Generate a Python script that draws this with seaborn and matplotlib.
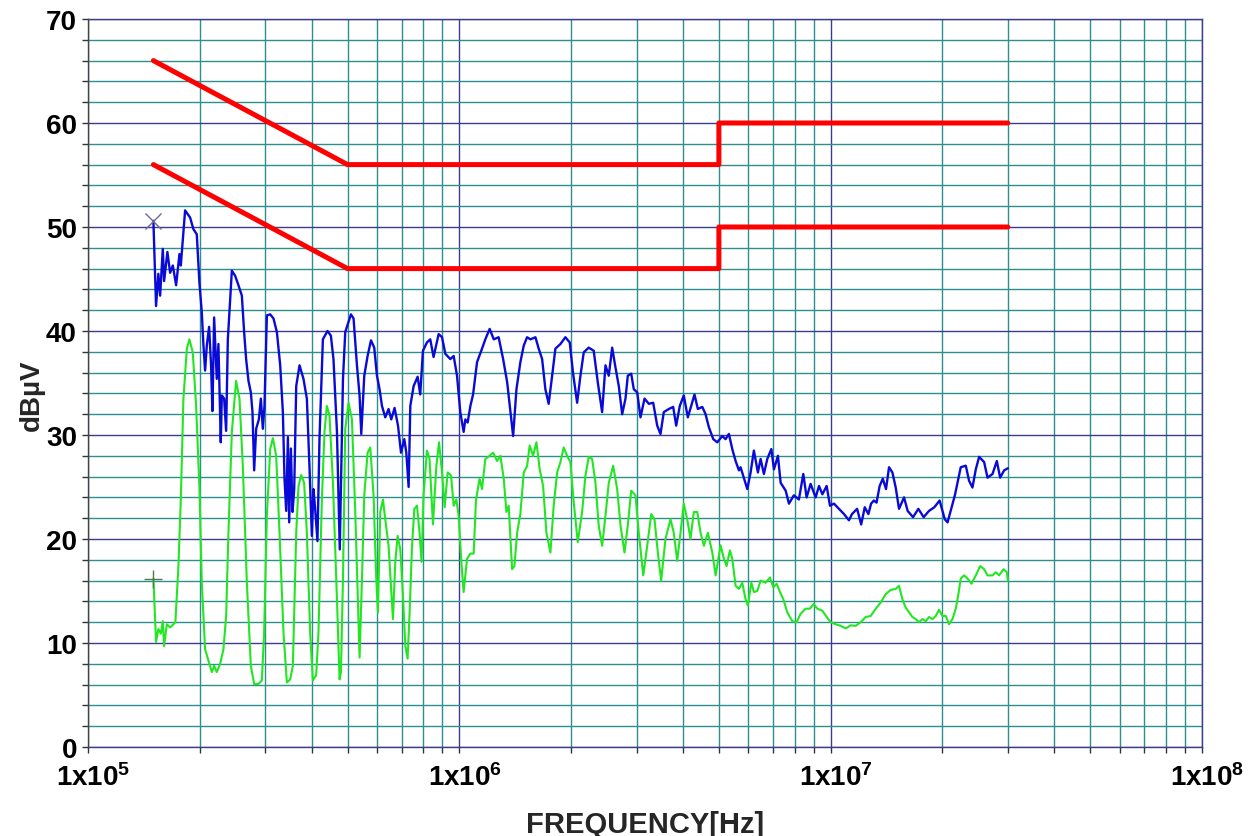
import matplotlib
matplotlib.use("Agg")
import matplotlib.pyplot as plt
import seaborn as sns
import pandas as pd
import numpy as np
from matplotlib.ticker import FixedLocator, NullFormatter, FixedFormatter
from matplotlib.transforms import ScaledTranslation

# ---------------- data ----------------
limit_f_khz = [150, 500, 5000, 5000, 30000]
limit_qp_db = [66, 56, 56, 60, 60]
limit_av_db = [56, 46, 46, 50, 50]

peak_f_khz = [150, 152.5, 154.7, 156.4, 159.0, 160.3, 163.6, 166.4, 169.2, 172.7, 176.3, 177.8, 182.6, 188.4, 192.2, 196.3, 199.5, 202.5, 204.5, 206.7, 208.9, 211.9, 214.5, 216.3, 218.6, 222.2, 224.5, 227.8, 229.3, 232.6, 235.5, 238.0, 244.0, 249.1, 254.2, 259.6, 263.3, 266.6, 270.5, 274.5, 277.3, 280.2, 283.7, 288.5, 292.1, 295.7, 298.7, 303.2, 309.5, 315.9, 322.6, 329.3, 334.8, 338.2, 341.8, 345.4, 348.2, 351.9, 355.4, 359.2, 363.7, 371.2, 380.4, 388.5, 394.8, 400.7, 404.8, 409.0, 414.9, 420.1, 429.1, 441.5, 450.9, 458.2, 468.2, 476.4, 486.0, 492.9, 510.6, 519.0, 530.0, 538.7, 544.4, 554.6, 566.2, 578.2, 590.0, 600.0, 609.8, 618.9, 631.7, 644.8, 655.7, 669.3, 683.7, 696.5, 710.9, 719.8, 730.2, 737.9, 753.2, 772.1, 784.7, 798.0, 818.1, 835.0, 852.3, 879.6, 898.3, 916.9, 945.8, 965.4, 985.8, 1006, 1027, 1038, 1053, 1071, 1089, 1116, 1151, 1175, 1207, 1238, 1276, 1312, 1345, 1373, 1396, 1425, 1460, 1491, 1522, 1554, 1603, 1636, 1671, 1705, 1740, 1778, 1814, 1872, 1930, 1983, 2025, 2076, 2119, 2163, 2231, 2301, 2359, 2424, 2475, 2526, 2580, 2633, 2688, 2745, 2802, 2842, 2903, 2950, 3013, 3075, 3153, 3238, 3327, 3411, 3481, 3553, 3665, 3766, 3837, 3924, 4022, 4124, 4212, 4298, 4388, 4511, 4604, 4699, 4829, 4950, 5106, 5212, 5320, 5433, 5546, 5662, 5720, 5963, 6087, 6212, 6368, 6476, 6610, 6751, 6922, 7035, 7211, 7334, 7565, 7721, 7960, 8211, 8439, 8614, 8829, 9112, 9301, 9500, 9755, 9957, 10207, 10529, 10860, 11202, 11416, 11780, 12084, 12353, 12636, 12848, 13072, 13290, 13551, 13815, 14095, 14362, 14664, 14968, 15278, 15760, 16120, 16667, 17225, 17800, 18397, 19012, 19650, 20000, 20290, 20645, 21120, 21600, 22404, 23114, 23590, 24090, 24594, 25107, 25896, 26448, 27282, 28020, 28599, 29319, 30000]
peak_db = [50.6, 42.4, 45.5, 43.4, 47.9, 44.8, 47.6, 45.6, 46.3, 44.4, 47.4, 46.3, 51.6, 50.9, 49.8, 49.3, 44.7, 41.8, 38.75, 36.2, 38.6, 40.4, 36.7, 32.3, 41.3, 35.4, 38.75, 29.3, 33.8, 33.5, 30.4, 39.2, 45.8, 45.3, 44.4, 43.4, 39.9, 37.3, 35.2, 34.1, 32.2, 26.6, 30.6, 31.5, 33.5, 30.6, 32.8, 41.5, 41.6, 41.2, 39.9, 36.7, 32.2, 25.8, 22.7, 29.8, 21.6, 28.7, 22.6, 24.8, 34.7, 36.7, 35.4, 33.5, 27.0, 20.3, 24.8, 22.9, 19.8, 29.6, 39.2, 40.0, 39.55, 37.3, 30.3, 19.0, 35.4, 39.9, 41.6, 41.2, 36.7, 33.8, 30.1, 35.7, 37.6, 39.1, 38.4, 35.7, 34.4, 32.8, 31.7, 32.5, 31.5, 32.6, 30.9, 28.3, 29.6, 28.3, 25.0, 32.8, 34.7, 35.6, 33.9, 38.1, 38.9, 39.2, 37.5, 39.7, 39.4, 37.8, 37.3, 37.6, 35.7, 32.2, 30.3, 31.5, 31.2, 32.8, 33.9, 37.0, 38.3, 39.2, 40.2, 39.2, 39.4, 37.3, 35.1, 32.2, 29.9, 34.4, 37.0, 38.6, 39.4, 39.2, 39.4, 38.3, 37.3, 34.4, 33.0, 35.7, 38.3, 38.75, 39.4, 38.9, 35.9, 33.1, 35.7, 37.95, 38.4, 38.1, 35.1, 32.2, 36.7, 35.7, 38.4, 36.5, 34.7, 32.0, 33.5, 35.7, 35.9, 34.4, 34.1, 31.7, 33.5, 33.0, 33.1, 30.9, 30.1, 32.2, 32.5, 32.7, 30.9, 32.8, 33.8, 31.7, 32.8, 33.9, 32.5, 32.7, 32.0, 30.75, 29.6, 29.3, 29.9, 29.6, 30.1, 28.65, 27.5, 26.6, 26.9, 24.8, 26.4, 28.5, 26.4, 27.7, 26.25, 27.7, 28.65, 26.7, 28.0, 25.4, 24.65, 23.4, 24.2, 23.8, 26.25, 24.0, 25.3, 24.0, 25.1, 24.3, 25.1, 23.2, 23.4, 22.9, 22.4, 21.8, 22.4, 22.9, 21.4, 23.05, 22.4, 23.4, 23.7, 23.5, 25.1, 25.8, 24.8, 26.9, 26.4, 24.95, 22.9, 24.0, 22.7, 22.1, 22.9, 22.1, 22.7, 23.05, 23.7, 22.7, 21.9, 21.6, 22.9, 24.2, 26.9, 27.05, 25.6, 24.95, 26.7, 27.9, 27.4, 25.9, 26.25, 27.5, 25.9, 26.6, 26.8]

avg_f_khz = [150, 152.5, 154.7, 157.1, 159.0, 160.3, 163.0, 166.4, 169.8, 171.9, 175.2, 177.8, 180.7, 184.6, 187.5, 191.5, 195.5, 199.5, 202.5, 206.7, 211.0, 215.5, 218.6, 222.2, 226.9, 231.6, 235.5, 238.9, 244.0, 250.5, 255.8, 261.2, 267.8, 274.5, 280.2, 287.8, 293.9, 298.1, 303.2, 309.5, 314.7, 321.2, 327.9, 336.1, 343.2, 350.3, 356.2, 363.7, 368.9, 375.0, 382.0, 388.5, 396.5, 403.2, 411.6, 417.5, 426.4, 433.4, 439.8, 447.0, 456.7, 468.2, 475.8, 479.9, 486.0, 492.9, 503.1, 513.8, 524.5, 538.7, 546.8, 554.6, 566.2, 575.6, 587.5, 597.4, 603.7, 612.4, 622.8, 631.7, 644.8, 654.4, 662.6, 672.3, 682.0, 693.5, 705.2, 715.4, 725.6, 734.7, 745.8, 756.5, 769.2, 781.4, 791.1, 801.0, 818.1, 831.4, 849.1, 867.1, 881.7, 898.3, 913.0, 930.1, 950.0, 965.4, 981.6, 995.7, 1012.5, 1027, 1049, 1071, 1093, 1109, 1134, 1151, 1175, 1207, 1233, 1264, 1290, 1317, 1339, 1358, 1387, 1407, 1431, 1460, 1491, 1522, 1547, 1580, 1613, 1646, 1681, 1716, 1759, 1795, 1834, 1872, 1910, 1951, 1991, 2033, 2084, 2141, 2186, 2231, 2278, 2326, 2373, 2424, 2475, 2526, 2596, 2661, 2717, 2785, 2842, 2903, 2981, 3043, 3128, 3206, 3287, 3354, 3424, 3496, 3590, 3704, 3780, 3861, 3941, 4022, 4108, 4193, 4280, 4372, 4463, 4556, 4670, 4799, 4899, 5053, 5158, 5245, 5354, 5433, 5546, 5662, 5780, 5900, 5985, 6113, 6212, 6344, 6476, 6680, 6862, 7009, 7154, 7302, 7458, 7641, 7881, 8095, 8298, 8560, 8791, 9000, 9209, 9500, 9755, 10000, 10315, 10640, 10975, 11323, 11676, 12045, 12424, 12818, 13222, 13640, 14068, 14512, 14968, 15278, 15604, 15926, 16256, 16602, 16946, 17296, 17664, 18032, 18404, 18796, 19186, 19582, 20000, 20414, 20836, 21280, 21720, 22032, 22404, 22872, 23352, 23944, 24594, 25263, 25896, 26448, 27282, 27846, 28422, 29211, 29814, 30000]
avg_db = [16.2, 10.1, 11.35, 10.9, 12.1, 9.7, 11.8, 11.5, 11.8, 12.0, 17.4, 23.8, 33.5, 38.3, 39.2, 37.95, 32.8, 25.1, 15.8, 9.4, 8.3, 7.2, 7.8, 7.2, 8.0, 9.4, 12.6, 20.6, 30.3, 35.2, 33.5, 27.0, 15.8, 7.8, 6.06, 6.06, 6.4, 11.0, 22.25, 28.65, 29.7, 28.0, 20.6, 11.0, 6.2, 6.5, 7.8, 20.6, 25.1, 26.15, 25.4, 20.6, 11.0, 6.4, 6.9, 11.0, 23.8, 30.3, 32.8, 31.9, 25.4, 14.2, 6.5, 7.2, 16.2, 30.6, 33.1, 31.5, 22.6, 8.6, 16.2, 24.2, 28.3, 28.8, 24.2, 16.2, 12.95, 22.6, 23.8, 21.9, 19.35, 15.5, 12.3, 17.8, 20.3, 19.0, 14.5, 9.7, 8.5, 12.95, 19.35, 22.9, 23.2, 20.6, 17.8, 24.2, 28.5, 27.7, 21.4, 27.0, 29.3, 26.4, 23.05, 26.4, 26.1, 23.2, 23.8, 22.25, 17.8, 14.9, 18.1, 18.6, 18.6, 23.8, 25.8, 24.8, 27.7, 28.0, 28.3, 27.5, 28.0, 25.8, 22.6, 23.2, 17.1, 17.4, 20.6, 22.4, 26.4, 27.0, 29.0, 28.0, 29.3, 26.7, 25.1, 20.6, 18.7, 23.2, 26.4, 27.4, 28.8, 28.0, 27.4, 23.5, 19.7, 22.6, 26.1, 27.9, 27.7, 25.4, 21.3, 19.35, 22.25, 25.4, 27.05, 24.8, 21.3, 18.7, 21.3, 24.65, 24.2, 20.6, 16.5, 19.35, 22.4, 21.9, 18.7, 16.0, 20.0, 21.9, 20.6, 17.9, 20.6, 23.4, 21.9, 20.0, 22.6, 22.6, 20.6, 19.35, 20.6, 18.7, 16.5, 19.4, 18.1, 17.4, 18.9, 18.1, 15.5, 15.2, 15.8, 14.2, 13.6, 15.8, 14.9, 15.0, 16.0, 15.8, 16.3, 15.35, 15.7, 14.9, 14.2, 12.95, 12.1, 12.0, 12.8, 13.3, 13.3, 13.75, 13.3, 13.1, 12.5, 12.0, 11.8, 11.65, 11.4, 11.7, 11.65, 12.0, 12.5, 12.6, 13.3, 13.9, 14.7, 15.1, 15.2, 15.5, 14.2, 13.4, 12.95, 12.5, 12.3, 12.0, 12.3, 12.1, 12.5, 12.3, 12.6, 13.2, 12.6, 12.6, 11.8, 12.3, 13.3, 14.5, 16.2, 16.5, 16.2, 15.7, 16.5, 17.4, 17.1, 16.5, 16.5, 16.8, 16.5, 17.1, 16.8, 16.0]

y_ticks = [0, 10, 20, 30, 40, 50, 60, 70]
x_ticks = [1e5, 1e6, 1e7, 1e8]
x_tick_labels = [r"$\mathbf{1x10^{5}}$", r"$\mathbf{1x10^{6}}$",
                 r"$\mathbf{1x10^{7}}$", r"$\mathbf{1x10^{8}}$"]

# ---------------- style ----------------
sns.set_style("white")
plt.rcParams["font.family"] = ["Liberation Sans", "DejaVu Sans"]
plt.rcParams["mathtext.fontset"] = "custom"
plt.rcParams["mathtext.rm"] = "Liberation Sans:bold"
plt.rcParams["mathtext.bf"] = "Liberation Sans:bold"
plt.rcParams["mathtext.it"] = "Liberation Sans:bold"

MAJOR = "#3c3c8c"
MINOR = "#2f8f8f"

fig = plt.figure(figsize=(12.6, 8.37), dpi=100)
ax = fig.add_axes([88 / 1260, 1 - 748 / 837, (1202 - 88) / 1260, (748 - 20) / 837])
ax.set_xscale("log")

peak_df = pd.DataFrame({"f": np.array(peak_f_khz) * 1e3, "db": peak_db})
avg_df = pd.DataFrame({"f": np.array(avg_f_khz) * 1e3, "db": avg_db})
lim_df = pd.DataFrame({"f": np.array(limit_f_khz) * 1e3, "qp": limit_qp_db, "av": limit_av_db})

sns.lineplot(data=avg_df, x="f", y="db", ax=ax, color="#22e622", lw=1.5,
             estimator=None, sort=False, zorder=3)
sns.lineplot(data=peak_df, x="f", y="db", ax=ax, color="#0a0ad8", lw=1.7,
             estimator=None, sort=False, zorder=4)
sns.lineplot(data=lim_df, x="f", y="qp", ax=ax, color="#ff0000", lw=3.6,
             estimator=None, sort=False, zorder=5)
sns.lineplot(data=lim_df, x="f", y="av", ax=ax, color="#ff0000", lw=3.6,
             estimator=None, sort=False, zorder=5)

# start markers
ax.plot(peak_df["f"].iloc[:1], peak_df["db"].iloc[:1], marker="x", ms=12, mew=1.0,
        color="#6a6a9a", ls="none", zorder=6)
ax.plot(avg_df["f"].iloc[:1], avg_df["db"].iloc[:1], marker="+", ms=13, mew=1.0,
        color="#4f7a4f", ls="none", zorder=6)

ax.set_xlim(1e5, 1e8)
ax.set_ylim(0, 70)

ax.xaxis.set_major_locator(FixedLocator(x_ticks))
ax.xaxis.set_major_formatter(FixedFormatter(x_tick_labels))
minor_x = [m * 10 ** e for e in range(5, 8) for m in range(2, 10)]
ax.xaxis.set_minor_locator(FixedLocator(minor_x))
ax.xaxis.set_minor_formatter(NullFormatter())

ax.yaxis.set_major_locator(FixedLocator(y_ticks))
ax.set_yticklabels([str(v) for v in y_ticks])
ax.yaxis.set_minor_locator(FixedLocator([v for v in range(0, 71, 2) if v % 10]))

ax.grid(which="major", color=MAJOR, lw=1.0, zorder=1)
ax.grid(which="minor", color=MINOR, lw=1.0, zorder=1)
ax.set_axisbelow(True)

ax.tick_params(axis="both", which="both", direction="out", colors="#333333",
               left=True, bottom=True, length=4, width=1)
ax.tick_params(axis="y", which="major", labelsize=20, pad=4, labelcolor="black")
ax.tick_params(axis="x", which="major", labelsize=20, pad=8, labelcolor="black")
for lab in ax.get_yticklabels():
    lab.set_fontweight("bold")

for s in ax.spines.values():
    s.set_color(MAJOR)
    s.set_linewidth(1.0)
ax.spines["left"].set_color("#444444")
ax.spines["bottom"].set_color(MAJOR)

ax.set_xlabel("FREQUENCY[Hz]", fontsize=21, fontweight="bold")
ax.set_ylabel("dBµV", fontsize=20, fontweight="bold")
ax.xaxis.set_label_coords(0.5, -(811 - 748) / 728)
ax.yaxis.set_label_coords(-(88 - 45) / 1114, 0.485)

# shift x tick labels so that the "1x10" base sits centred on the tick
fig.canvas.draw()
shift = ScaledTranslation(0.055, 0, fig.dpi_scale_trans)
for lab in ax.xaxis.get_majorticklabels():
    lab.set_transform(lab.get_transform() + shift)

fig.savefig("out.png", dpi=100)
